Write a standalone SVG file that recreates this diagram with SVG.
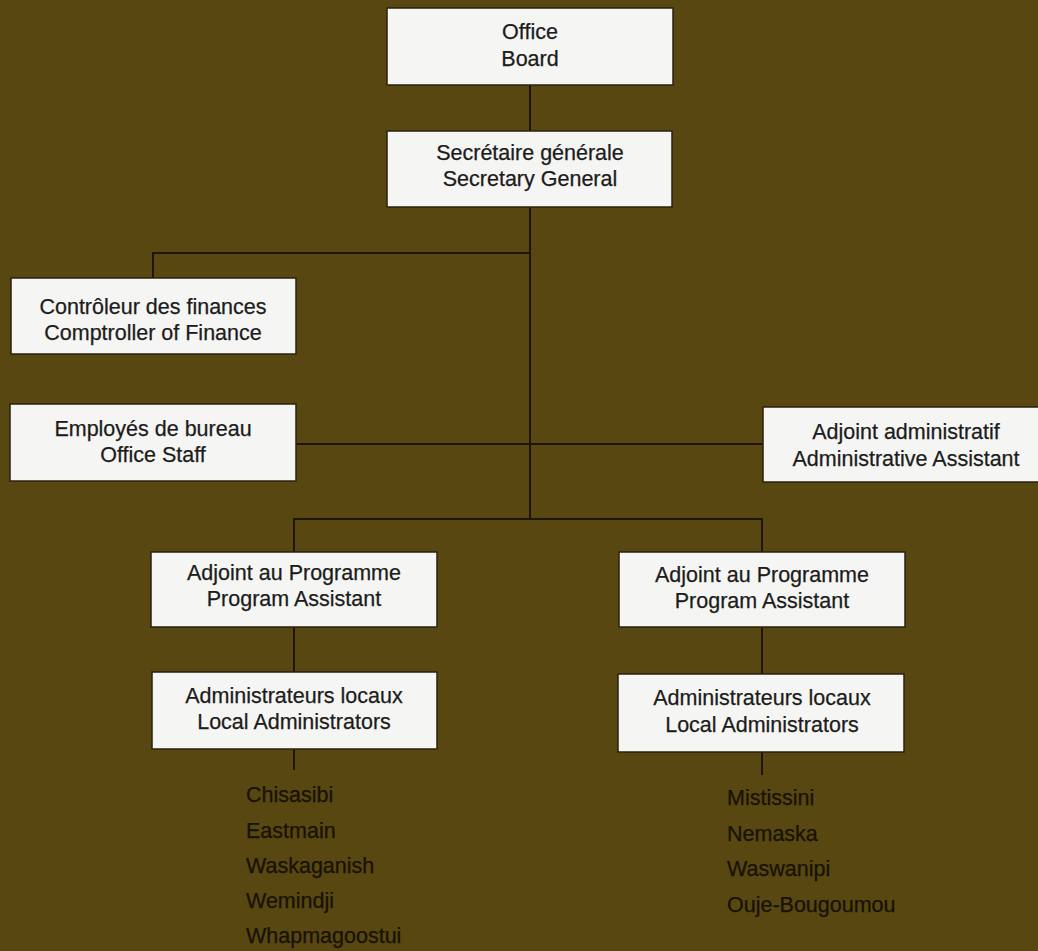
<svg xmlns="http://www.w3.org/2000/svg" width="1038" height="951" viewBox="0 0 1038 951">
<style>
.box{fill:#f5f5f3;stroke:#2a220c;stroke-width:1.5}
.t{font-family:"Liberation Sans",Arial,sans-serif;font-size:21.5px;fill:#1c1c1c;stroke:#1c1c1c;stroke-width:0.25;text-anchor:middle}
.l{font-family:"Liberation Sans",Arial,sans-serif;font-size:21.5px;fill:#171204;stroke:#171204;stroke-width:0.25}
.c{stroke:#1e1605;stroke-width:2;fill:none}
</style>
<rect x="0" y="0" width="1038" height="951" fill="#584711"/>
<g id="connectors">
<path class="c" d="M530 85V519"/>
<path class="c" d="M153 278V253H530"/>
<path class="c" d="M296 444H763"/>
<path class="c" d="M294 552V519H762V552"/>
<path class="c" d="M294 625V672"/>
<path class="c" d="M762 627V674"/>
<path class="c" d="M294 749V770"/>
<path class="c" d="M762 752V775"/>
</g>
<g id="office-board"><rect class="box" x="387" y="8" width="286" height="77"/><text class="t" x="530" y="39">Office</text><text class="t" x="530" y="66">Board</text></g>
<g id="secretary-general"><rect class="box" x="387" y="131" width="285" height="76"/><text class="t" x="530" y="160">Secrétaire générale</text><text class="t" x="530" y="186">Secretary General</text></g>
<g id="comptroller"><rect class="box" x="11" y="278" width="285" height="76"/><text class="t" x="153" y="314">Contrôleur des finances</text><text class="t" x="153" y="340">Comptroller of Finance</text></g>
<g id="office-staff"><rect class="box" x="10" y="404" width="286" height="77"/><text class="t" x="153" y="436">Employés de bureau</text><text class="t" x="153" y="462">Office Staff</text></g>
<g id="admin-assistant"><rect class="box" x="763" y="407" width="290" height="75"/><text class="t" x="906" y="439">Adjoint administratif</text><text class="t" x="906" y="466">Administrative Assistant</text></g>
<g id="program-assistant-left"><rect class="box" x="151" y="552" width="286" height="75"/><text class="t" x="294" y="580">Adjoint au Programme</text><text class="t" x="294" y="606">Program Assistant</text></g>
<g id="program-assistant-right"><rect class="box" x="619" y="552" width="286" height="75"/><text class="t" x="762" y="582">Adjoint au Programme</text><text class="t" x="762" y="608">Program Assistant</text></g>
<g id="local-admin-left"><rect class="box" x="152" y="672" width="285" height="77"/><text class="t" x="294" y="703">Administrateurs locaux</text><text class="t" x="294" y="729">Local Administrators</text></g>
<g id="local-admin-right"><rect class="box" x="618" y="674" width="286" height="78"/><text class="t" x="762" y="705">Administrateurs locaux</text><text class="t" x="762" y="732">Local Administrators</text></g>
<g id="list-left">
<text class="l" x="246" y="802">Chisasibi</text>
<text class="l" x="246" y="838">Eastmain</text>
<text class="l" x="246" y="873">Waskaganish</text>
<text class="l" x="246" y="908">Wemindji</text>
<text class="l" x="246" y="943">Whapmagoostui</text>
</g>
<g id="list-right">
<text class="l" x="727" y="805">Mistissini</text>
<text class="l" x="727" y="841">Nemaska</text>
<text class="l" x="727" y="876">Waswanipi</text>
<text class="l" x="727" y="912">Ouje-Bougoumou</text>
</g>
</svg>
